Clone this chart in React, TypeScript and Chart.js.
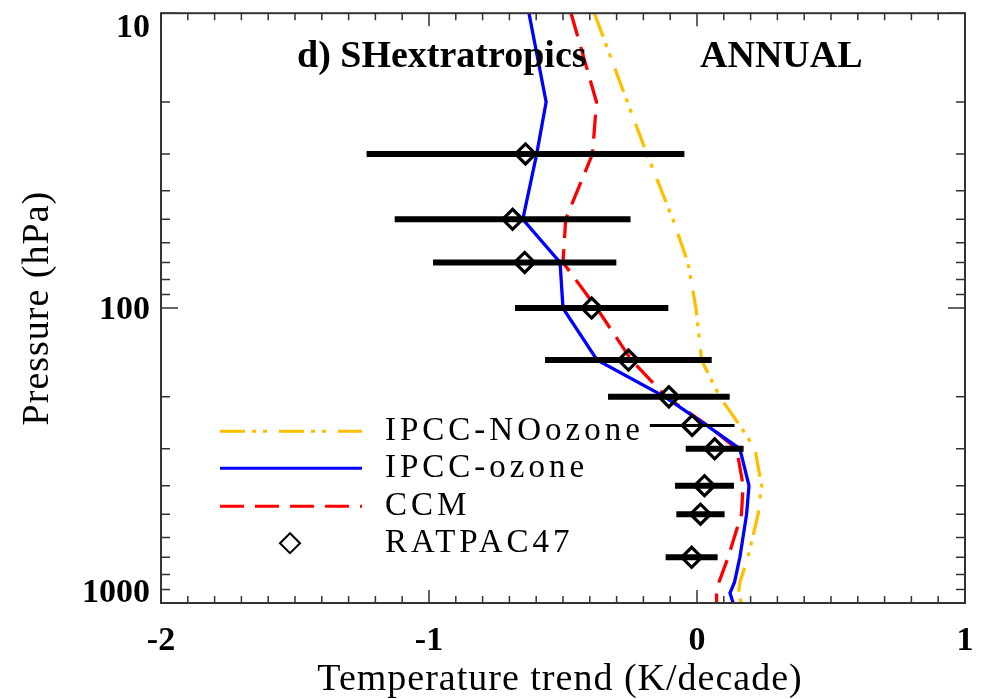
import { useEffect, useRef } from "react";
import { Chart, registerables } from "chart.js";

Chart.register(...registerables);

// ---------------- data ----------------
const modelLevels = [10, 20, 30, 50, 70, 100, 150, 200, 250, 300, 400, 500, 700, 850, 925, 1000];
const ipccNoOzone = [-0.383, -0.26, -0.187, -0.09, -0.034, -0.004, 0.017, 0.085, 0.16, 0.216, 0.241, 0.228, 0.19, 0.16, 0.155, 0.165];
const ipccOzone = [-0.627, -0.563, -0.598, -0.65, -0.511, -0.5, -0.373, -0.12, 0.036, 0.16, 0.194, 0.185, 0.16, 0.14, 0.123, 0.135];
const ccm = [-0.47, -0.375, -0.39, -0.49, -0.5, -0.374, -0.245, -0.115, 0.04, 0.148, 0.172, 0.166, 0.116, 0.082, 0.073, 0.073];

const ratpacLevels = [30, 50, 70, 100, 150, 200, 250, 300, 400, 500, 700];
const ratpacTrend = [-0.64, -0.688, -0.643, -0.393, -0.256, -0.105, -0.018, 0.066, 0.028, 0.013, -0.02];
const ratpacError = [0.593, 0.44, 0.342, 0.286, 0.311, 0.227, 0.158, 0.108, 0.11, 0.09, 0.097];

const xTickValues = [-2, -1, 0, 1];
const xTickLabels = ["-2", "-1", "0", "1"];
const yTickValues = [10, 100, 1000];
const yTickLabels = ["10", "100", "1000"];

const legendLabels = ["IPCC-NOozone", "IPCC-ozone", "CCM", "RATPAC47"];
const panelTitle = "d) SHextratropics";
const seasonTitle = "ANNUAL";
const xAxisTitle = "Temperature trend (K/decade)";
const yAxisTitle = "Pressure (hPa)";

// ---------------- styles ----------------
const FONT = "'Liberation Serif', 'Times New Roman', serif";
const ORANGE = "#FFBF00";
const BLUE = "#0000FF";
const RED = "#FF0000";
const FRAME = "#333333";
const ORANGE_DASH = [25, 7, 4, 7, 4, 12];
const RED_DASH = [24, 11];
const LINE_W = 3.3;

const toPoints = (xs: number[], ps: number[]) => xs.map((v, i) => ({ x: v, y: ps[i] }));

const decorations = {
  id: "decorations",
  beforeDatasetDraw(chart: any, args: any) {
    if (args.index !== 0) return;
    const { ctx } = chart;
    const x = chart.scales.x;
    const y = chart.scales.y;
    ctx.save();
    ctx.strokeStyle = "#000";
    ctx.lineCap = "butt";
    ratpacLevels.forEach((p, i) => {
      const py = y.getPixelForValue(p);
      ctx.lineWidth = p === 250 ? 3 : 6;
      ctx.beginPath();
      ctx.moveTo(x.getPixelForValue(ratpacTrend[i] - ratpacError[i]), py);
      ctx.lineTo(x.getPixelForValue(ratpacTrend[i] + ratpacError[i]), py);
      ctx.stroke();
    });
    ctx.restore();
  },
  afterDatasetsDraw(chart: any) {
    const { ctx, chartArea } = chart;
    const { left, right, top, bottom } = chartArea;
    const x = chart.scales.x;
    const y = chart.scales.y;
    ctx.save();

    // frame
    ctx.strokeStyle = FRAME;
    ctx.lineWidth = 2;
    ctx.strokeRect(left, top, right - left, bottom - top);

    // x ticks (inward, top & bottom)
    ctx.lineWidth = 1.5;
    ctx.beginPath();
    for (let k = -20; k <= 10; k++) {
      const px = x.getPixelForValue(k / 10);
      const len = k % 10 === 0 ? 13 : 7;
      ctx.moveTo(px, bottom);
      ctx.lineTo(px, bottom - len);
      ctx.moveTo(px, top);
      ctx.lineTo(px, top + len);
    }
    // y ticks (inward, left & right)
    for (const d of [10, 100]) {
      for (let m = 1; m <= 9; m++) {
        const py = y.getPixelForValue(m * d);
        const len = m === 1 ? 17 : 9;
        ctx.moveTo(left, py);
        ctx.lineTo(left + len, py);
        ctx.moveTo(right, py);
        ctx.lineTo(right - len, py);
      }
    }
    ctx.stroke();

    // tick labels
    ctx.fillStyle = "#000";
    ctx.font = `bold 34px ${FONT}`;
    ctx.textAlign = "center";
    ctx.textBaseline = "alphabetic";
    xTickValues.forEach((v, i) => {
      ctx.fillText(xTickLabels[i], x.getPixelForValue(v), bottom + 47);
    });
    ctx.textAlign = "right";
    yTickValues.forEach((v, i) => {
      const py = y.getPixelForValue(v);
      let base = py + 11;
      if (i === 0) base = top + 24;
      if (i === yTickValues.length - 1) base = bottom - 1;
      ctx.fillText(yTickLabels[i], left - 11, base);
    });

    // axis titles
    ctx.font = `38px ${FONT}`;
    (ctx as any).letterSpacing = "1px";
    ctx.textAlign = "center";
    ctx.fillText(xAxisTitle, (left + right) / 2 - 3, bottom + 87);
    ctx.save();
    ctx.translate(48, (top + bottom) / 2);
    ctx.rotate(-Math.PI / 2);
    ctx.fillText(yAxisTitle, 0, 0);
    ctx.restore();

    // panel titles
    (ctx as any).letterSpacing = "0px";
    ctx.font = `bold 38px ${FONT}`;
    ctx.textAlign = "left";
    ctx.fillText(panelTitle, left + 136, top + 54);
    ctx.fillText(seasonTitle, left + 539, top + 54);

    // legend
    const rows = [427, 464, 502, 539];
    const x0 = left + 59;
    const x1 = left + 201;
    const styles = [
      { color: ORANGE, dash: ORANGE_DASH },
      { color: BLUE, dash: [] as number[] },
      { color: RED, dash: RED_DASH },
    ];
    ctx.font = `33px ${FONT}`;
    (ctx as any).letterSpacing = "4px";
    legendLabels.forEach((lab, i) => {
      const base = top + rows[i];
      const ly = base - 9;
      if (i < 3) {
        ctx.save();
        ctx.strokeStyle = styles[i].color;
        ctx.lineWidth = 3;
        ctx.setLineDash(styles[i].dash);
        ctx.beginPath();
        ctx.moveTo(x0, ly);
        ctx.lineTo(x1, ly);
        ctx.stroke();
        ctx.restore();
      } else {
        const cx = (x0 + x1) / 2 - 1;
        const r = 10;
        ctx.save();
        ctx.strokeStyle = "#000";
        ctx.lineWidth = 2;
        ctx.beginPath();
        ctx.moveTo(cx - r, ly);
        ctx.lineTo(cx, ly - r);
        ctx.lineTo(cx + r, ly);
        ctx.lineTo(cx, ly + r);
        ctx.closePath();
        ctx.stroke();
        ctx.restore();
      }
      ctx.fillStyle = "#000";
      ctx.textAlign = "left";
      ctx.fillText(lab, left + 224, base);
    });

    ctx.restore();
  },
};

export default function App() {
  const canvasRef = useRef<HTMLCanvasElement | null>(null);

  useEffect(() => {
    const canvas = canvasRef.current;
    if (!canvas) return;
    const chart = new Chart(canvas, {
      type: "scatter",
      data: {
        datasets: [
          {
            label: legendLabels[3],
            data: toPoints(ratpacTrend, ratpacLevels),
            showLine: false,
            pointStyle: "rectRot",
            pointRadius: 10,
            pointBorderWidth: 3.2,
            pointBorderColor: "#000",
            pointBackgroundColor: "rgba(0,0,0,0)",
            borderColor: "#000",
            backgroundColor: "rgba(0,0,0,0)",
          },
          {
            label: legendLabels[1],
            data: toPoints(ipccOzone, modelLevels),
            showLine: true,
            borderColor: BLUE,
            borderWidth: LINE_W,
            pointRadius: 0,
            tension: 0,
          },
          {
            label: legendLabels[2],
            data: toPoints(ccm, modelLevels),
            showLine: true,
            borderColor: RED,
            borderWidth: LINE_W,
            borderDash: RED_DASH,
            pointRadius: 0,
            tension: 0,
          },
          {
            label: legendLabels[0],
            data: toPoints(ipccNoOzone, modelLevels),
            showLine: true,
            borderColor: ORANGE,
            borderWidth: LINE_W,
            borderDash: ORANGE_DASH,
            pointRadius: 0,
            tension: 0,
          },
        ],
      },
      options: {
        animation: false,
        responsive: false,
        devicePixelRatio: 1,
        layout: { padding: { left: 161, top: 8, right: 22, bottom: 96 } },
        plugins: {
          legend: { display: false },
          tooltip: { enabled: false },
          title: { display: false },
        },
        scales: {
          x: { type: "linear", min: -2, max: 1, display: false },
          y: { type: "logarithmic", min: 10, max: 1000, reverse: true, display: false },
        },
      },
      plugins: [decorations],
    } as any);
    return () => chart.destroy();
  }, []);

  return (
    <div style={{ position: "absolute", left: 0, top: 0, width: 987, height: 699, background: "#fff" }}>
      <canvas ref={canvasRef} width={987} height={699} style={{ display: "block" }} />
    </div>
  );
}
